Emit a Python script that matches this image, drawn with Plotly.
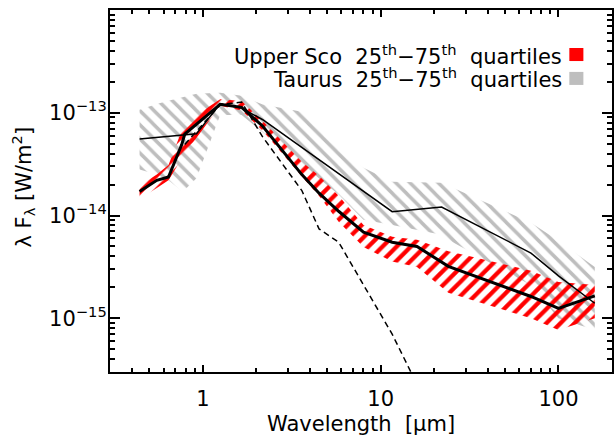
import numpy as np
import plotly.graph_objects as go

# ---------------- data ----------------
# Upper Sco median SED (thick line)
usco_wl = [0.44, 0.55, 0.64, 0.76, 0.79, 1.25, 1.65, 2.17, 3.6, 4.5, 5.8, 8.0, 11.6, 16, 24, 70, 100, 160]
usco_med = [1.71e-14, 2.2e-14, 2.37e-14, 4.9e-14, 6.2e-14, 1.21e-13, 1.13e-13, 7.4e-14, 2.5e-14,
            1.65e-14, 1.1e-14, 6.9e-15, 5.5e-15, 5.0e-15, 3.2e-15, 1.63e-15, 1.25e-15, 1.65e-15]
# Upper Sco 25th-75th quartiles
usco_q_wl = [0.44, 0.55, 0.64, 0.79, 1.25, 1.65, 2.17, 3.6, 4.5, 5.8, 8.0, 11.6, 16, 24, 70, 100, 160]
usco_q25 = [1.45e-14, 1.85e-14, 2.2e-14, 4.0e-14, 1.17e-13, 1.05e-13, 6.7e-14, 2.4e-14, 1.55e-14,
            8.7e-15, 4.95e-15, 3.56e-15, 3.16e-15, 1.77e-15, 1.0e-15, 7.7e-16, 1.0e-15]
usco_q75 = [1.95e-14, 2.5e-14, 3.1e-14, 8.0e-14, 1.35e-13, 1.3e-13, 8.3e-14, 3.33e-14, 2.44e-14,
            1.56e-14, 8.1e-15, 6.2e-15, 5.8e-15, 4.5e-15, 2.9e-15, 2.26e-15, 2.11e-15]

# Taurus median SED (thin line)
tau_wl = [0.44, 0.64, 0.92, 1.25, 1.65, 2.17, 3.6, 4.5, 5.8, 8.0, 11.6, 22, 70, 100, 160]
tau_med = [5.55e-14, 5.88e-14, 6.24e-14, 1.22e-13, 1.11e-13, 8.55e-14, 4.57e-14, 3.48e-14,
           2.54e-14, 1.71e-14, 1.09e-14, 1.21e-14, 4.31e-15, 2.59e-15, 1.40e-15]
# Taurus 25th-75th quartiles
tau_q_wl = [0.44, 0.55, 0.64, 0.77, 0.92, 1.25, 1.65, 2.17, 3.6, 4.5, 5.8, 8.0, 11.6, 22, 24, 70, 100, 160]
tau_q25 = [2.8e-14, 2.5e-14, 2.2e-14, 1.7e-14, 2.3e-14, 9.5e-14, 9.5e-14, 6.5e-14, 3.1e-14, 2.3e-14,
           1.6e-14, 9.1e-15, 8.1e-15, 6.5e-15, 5.8e-15, 2.1e-15, 1.0e-15, 7.7e-16]
tau_q75 = [1.07e-13, 1.22e-13, 1.31e-13, 1.43e-13, 1.53e-13, 1.57e-13, 1.46e-13, 1.2e-13, 1.02e-13,
           7.15e-14, 4.36e-14, 2.91e-14, 2.13e-14, 2.08e-14, 1.95e-14, 8.5e-15, 5.67e-15, 3.16e-15]

# Photosphere (dashed line)
phot_wl = [0.79, 1.25, 1.65, 2.17, 3.6, 4.5, 5.8, 8.0, 11.6, 24]
phot_f = [4.9e-14, 1.2e-13, 1.27e-13, 5.8e-14, 1.75e-14, 7.4e-15, 5.5e-15, 2.1e-15, 7.0e-16, 5.5e-17]

# axes
x_range = [0.3, 200]
y_range = [3e-16, 1e-12]
x_tickvals = [1, 10, 100]
x_ticktext = ["1", "10", "100"]
y_tickvals = [1e-15, 1e-14, 1e-13, 1e-12]
y_ticktext = ["10<sup>\u221215</sup>", "10<sup>\u221214</sup>", "10<sup>\u221213</sup>", "10<sup>\u221212</sup>"]

x_title = "Wavelength  [\u03bcm]"
y_title = "\u03bb F<sub>\u03bb</sub> [W/m<sup>2</sup>]"
legend_labels = ["Upper Sco  25<sup>th</sup>\u221275<sup>th</sup>  quartiles",
                 "Taurus  25<sup>th</sup>\u221275<sup>th</sup>  quartiles"]
legend_colors = ["#ff0000", "#bebebe"]

FONT = "DejaVu Sans"
FS = 21

fig = go.Figure()


def band(wl, lo, hi, color, shape, solidity):
    xs = list(wl) + list(wl)[::-1]
    ys = list(hi) + list(lo)[::-1]
    return go.Scatter(x=xs, y=ys, mode="lines", fill="toself",
                      line=dict(width=0, color="rgba(0,0,0,0)"),
                      fillcolor=color,
                      fillpattern=dict(shape=shape, size=10, solidity=solidity, fgopacity=1,
                                       fgcolor=color, bgcolor="rgba(255,255,255,0)"),
                      hoverinfo="skip", showlegend=False)


fig.add_trace(band(tau_q_wl, tau_q25, tau_q75, legend_colors[1], "\\", 0.35))
fig.add_trace(band(usco_q_wl, usco_q25, usco_q75, legend_colors[0], "/", 0.42))

fig.add_trace(go.Scatter(x=tau_wl, y=tau_med, mode="lines",
                         line=dict(color="black", width=1.5), showlegend=False))
fig.add_trace(go.Scatter(x=usco_wl, y=usco_med, mode="lines",
                         line=dict(color="black", width=3), showlegend=False))
fig.add_trace(go.Scatter(x=phot_wl, y=phot_f, mode="lines",
                         line=dict(color="black", width=1.5, dash="6px,4px"), showlegend=False))

# minor ticks
x_minor = [m * 10.0 ** e for e in range(-1, 3) for m in range(2, 10)
           if x_range[0] <= m * 10.0 ** e <= x_range[1]]
y_minor = [m * 10.0 ** e for e in range(-16, -12) for m in range(2, 10)
           if y_range[0] <= m * 10.0 ** e <= y_range[1]]

axis_common = dict(showgrid=False, zeroline=False, showline=True, linecolor="black",
                   linewidth=2, mirror="ticks", ticks="inside", tickcolor="black",
                   tickwidth=1.5, tickfont=dict(family=FONT, size=FS, color="black"))

fig.update_xaxes(type="log", range=[np.log10(x_range[0]), np.log10(x_range[1])],
                 tickmode="array", tickvals=x_tickvals, ticktext=x_ticktext, ticklen=7,
                 ticklabelstandoff=7,
                 minor=dict(tickmode="array", tickvals=x_minor, ticks="inside", ticklen=4,
                            tickcolor="black", tickwidth=1.5),
                 **axis_common)
fig.update_yaxes(type="log", range=[np.log10(y_range[0]), np.log10(y_range[1])],
                 tickmode="array", tickvals=y_tickvals, ticktext=y_ticktext, ticklen=10,
                 ticklabelstandoff=-3,
                 minor=dict(tickmode="array", tickvals=y_minor, ticks="inside", ticklen=5,
                            tickcolor="black", tickwidth=1.5),
                 **axis_common)

# axis titles as annotations for exact placement
fig.add_annotation(xref="paper", yref="paper", x=0.5, y=-0.143, xanchor="center", yanchor="middle",
                   text=x_title, showarrow=False, font=dict(family=FONT, size=FS, color="black"))
fig.add_annotation(xref="paper", yref="paper", x=-0.173, y=0.51, xanchor="center", yanchor="middle",
                   text=y_title, textangle=-90, showarrow=False,
                   font=dict(family=FONT, size=FS, color="black"))

# legend as annotations
for i, (lab, col) in enumerate(zip(legend_labels, legend_colors)):
    yp = 0.877 - i * 0.066
    fig.add_annotation(xref="paper", yref="paper", x=0.905, y=yp, xanchor="right", yanchor="middle",
                       text=lab, showarrow=False, font=dict(family=FONT, size=FS, color="black"))
    fig.add_shape(type="rect", xref="paper", yref="paper", x0=0.915, x1=0.943,
                  y0=yp - 0.018, y1=yp + 0.018, fillcolor=col, line=dict(width=0))

fig.update_layout(width=615, height=441, margin=dict(l=110, r=1, t=10, b=69),
                  paper_bgcolor="white", plot_bgcolor="white",
                  font=dict(family=FONT, color="black"))

fig.write_html("out.html")
